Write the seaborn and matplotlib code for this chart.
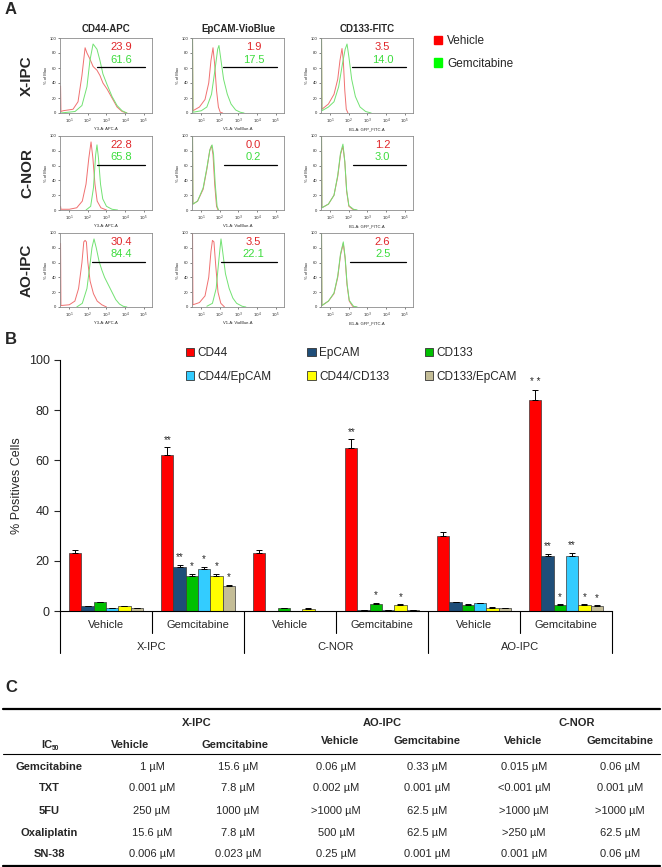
import numpy as np
import pandas as pd
import matplotlib
matplotlib.use("Agg")
import matplotlib.pyplot as plt
import matplotlib.transforms as mtransforms
from matplotlib.patches import Patch
from matplotlib import font_manager
import seaborn as sns

# ---------------- panel A: flow histograms (log10 intensity, % of max) ----------------
LINES = ["X-IPC", "C-NOR", "AO-IPC"]
STAINS = ["CD44-APC", "EpCAM-VioBlue", "CD133-FITC"]
CHANNELS = ["Y3-A: APC-A", "V1-A: VioBlue-A", "B1-A: GFP_FITC-A"]

xipc_cd44_veh = [(0.53, 36), (0.55, 2), (0.66, 3), (1.2, 5), (1.47, 15), (1.68, 50), (1.85, 87), (1.95, 80),
                 (2.11, 72), (2.28, 62), (2.49, 57), (2.65, 50), (2.81, 40), (3.03, 32), (3.3, 20),
                 (3.57, 8), (3.84, 2), (4.1, 0)]
xipc_cd44_gem = [(0.53, 0), (1.31, 2), (1.68, 10), (1.95, 35), (2.11, 70), (2.28, 92), (2.49, 85),
                 (2.65, 70), (2.81, 52), (3.03, 38), (3.3, 22), (3.57, 10), (3.84, 3), (4.1, 0)]
xipc_epcam_veh = [(0.53, 100), (0.55, 3), (0.9, 8), (1.2, 18), (1.4, 40), (1.52, 70), (1.63, 87),
                  (1.72, 65), (1.82, 30), (1.92, 8), (2.02, 1), (2.15, 0)]
xipc_epcam_gem = [(0.53, 100), (0.55, 1), (1.0, 3), (1.3, 8), (1.55, 25), (1.75, 60), (1.88, 85),
                  (1.95, 90), (2.05, 72), (2.2, 45), (2.4, 25), (2.6, 12), (2.85, 4), (3.1, 1), (3.3, 0)]
xipc_cd133_veh = [(0.53, 100), (0.55, 5), (0.9, 12), (1.2, 25), (1.4, 45), (1.52, 70), (1.63, 86),
                  (1.7, 70), (1.78, 30), (1.86, 5), (1.95, 0)]
xipc_cd133_gem = [(0.53, 100), (0.55, 3), (0.9, 8), (1.2, 15), (1.45, 35), (1.65, 65), (1.8, 85),
                  (1.9, 92), (2.0, 75), (2.15, 45), (2.35, 22), (2.6, 8), (2.9, 2), (3.2, 0)]

cnor_cd44_veh = [(0.53, 5), (0.55, 1), (1.0, 1), (1.4, 3), (1.7, 12), (1.9, 35), (2.05, 70), (2.17, 92),
                 (2.27, 70), (2.38, 35), (2.5, 12), (2.7, 3), (3.0, 0)]
cnor_cd44_gem = [(1.9, 0), (2.15, 5), (2.3, 30), (2.42, 75), (2.49, 88), (2.57, 70), (2.68, 35),
                 (2.8, 15), (3.0, 5), (3.3, 1), (3.6, 0)]
cnor_epcam_veh = [(0.53, 100), (0.55, 8), (0.8, 12), (1.1, 28), (1.3, 55), (1.45, 80), (1.55, 87),
                  (1.63, 75), (1.72, 35), (1.82, 5), (1.9, 0)]
cnor_epcam_gem = [(0.53, 100), (0.55, 8), (0.8, 12), (1.1, 30), (1.3, 57), (1.47, 82), (1.58, 88),
                  (1.66, 75), (1.75, 35), (1.85, 5), (1.93, 0)]
cnor_cd133_veh = [(0.53, 100), (0.55, 3), (0.9, 8), (1.2, 20), (1.4, 45), (1.55, 75), (1.68, 86),
                  (1.78, 65), (1.88, 25), (2.0, 5), (2.2, 1), (2.4, 0)]
cnor_cd133_gem = [(0.53, 100), (0.55, 3), (0.9, 8), (1.2, 20), (1.4, 47), (1.55, 77), (1.68, 89),
                  (1.78, 66), (1.88, 27), (2.0, 6), (2.25, 1), (2.45, 0)]

aoipc_cd44_veh = [(0.53, 86), (0.55, 2), (1.0, 3), (1.3, 8), (1.5, 25), (1.68, 60), (1.78, 88), (1.85, 90),
                  (1.92, 88), (2.0, 60), (2.12, 35), (2.3, 18), (2.5, 8), (2.75, 3), (3.0, 0)]
aoipc_cd44_gem = [(1.4, 0), (1.7, 5), (1.95, 25), (2.1, 55), (2.22, 80), (2.33, 92), (2.45, 80), (2.6, 62),
                  (2.75, 50), (2.9, 40), (3.1, 30), (3.3, 20), (3.5, 10), (3.7, 4), (3.9, 1), (4.1, 0)]
aoipc_epcam_veh = [(0.53, 100), (0.55, 3), (0.9, 6), (1.2, 15), (1.4, 40), (1.52, 75), (1.6, 90),
                   (1.68, 88), (1.78, 55), (1.9, 20), (2.05, 5), (2.25, 0)]
aoipc_epcam_gem = [(1.3, 1), (1.6, 5), (1.8, 25), (1.95, 65), (2.06, 92), (2.15, 75), (2.3, 45),
                   (2.5, 25), (2.7, 12), (2.9, 5), (3.2, 1), (3.4, 0)]
aoipc_cd133_veh = [(0.53, 100), (0.55, 2), (0.9, 8), (1.2, 18), (1.4, 40), (1.55, 70), (1.7, 86),
                   (1.8, 65), (1.9, 30), (2.02, 8), (2.2, 1), (2.4, 0)]
aoipc_cd133_gem = [(0.53, 100), (0.55, 2), (0.9, 8), (1.2, 19), (1.4, 42), (1.55, 72), (1.7, 88),
                   (1.8, 67), (1.9, 32), (2.02, 9), (2.25, 1), (2.45, 0)]

# % positive printed in each histogram
PCT_VEH = [[23.9, 1.9, 3.5], [22.8, 0.0, 1.2], [30.4, 3.5, 2.6]]
PCT_GEM = [[61.6, 17.5, 14.0], [65.8, 0.2, 3.0], [84.4, 22.1, 2.5]]
GATE_START = [[2.48, 2.18, 2.18], [2.48, 2.23, 2.23], [2.23, 2.08, 2.08]]

HIST = [
    [(xipc_cd44_veh, xipc_cd44_gem), (xipc_epcam_veh, xipc_epcam_gem), (xipc_cd133_veh, xipc_cd133_gem)],
    [(cnor_cd44_veh, cnor_cd44_gem), (cnor_epcam_veh, cnor_epcam_gem), (cnor_cd133_veh, cnor_cd133_gem)],
    [(aoipc_cd44_veh, aoipc_cd44_gem), (aoipc_epcam_veh, aoipc_epcam_gem), (aoipc_cd133_veh, aoipc_cd133_gem)],
]

# ---------------- panel B: % positive cells ----------------
SUBGROUPS = ["X-IPC Vehicle", "X-IPC Gemcitabine", "C-NOR Vehicle", "C-NOR Gemcitabine",
             "AO-IPC Vehicle", "AO-IPC Gemcitabine"]
TREATMENTS = ["Vehicle", "Gemcitabine"] * 3
GROUPS = ["X-IPC", "C-NOR", "AO-IPC"]
MARKERS = ["CD44", "EpCAM", "CD133", "CD44/EpCAM", "CD44/CD133", "CD133/EpCAM"]

cd44 = [23.2, 62.0, 23.2, 64.8, 29.9, 83.9]
epcam = [1.9, 17.6, 0.0, 0.3, 3.5, 22.0]
cd133 = [3.5, 14.0, 1.2, 2.9, 2.5, 2.4]
cd44_epcam = [1.2, 16.8, 0.0, 0.3, 3.1, 22.0]
cd44_cd133 = [2.0, 14.0, 0.9, 2.4, 1.0, 2.4]
cd133_epcam = [1.2, 10.0, 0.1, 0.3, 1.2, 2.0]
VALUES = [cd44, epcam, cd133, cd44_epcam, cd44_cd133, cd133_epcam]

cd44_err = [1.2, 3.2, 1.1, 3.6, 1.5, 4.2]
epcam_err = [0.1, 0.8, 0.0, 0.1, 0.2, 0.7]
cd133_err = [0.2, 0.8, 0.1, 0.4, 0.4, 0.2]
cd44_epcam_err = [0.1, 0.8, 0.0, 0.1, 0.1, 1.3]
cd44_cd133_err = [0.1, 0.8, 0.3, 0.2, 0.4, 0.2]
cd133_epcam_err = [0.1, 0.4, 0.0, 0.1, 0.1, 0.2]
ERRORS = [cd44_err, epcam_err, cd133_err, cd44_epcam_err, cd44_cd133_err, cd133_epcam_err]

STARS = [
    ["", "**", "", "**", "", "* *"],
    ["", "**", "", "", "", "**"],
    ["", "*", "", "*", "", "*"],
    ["", "*", "", "", "", "**"],
    ["", "*", "", "*", "", "*"],
    ["", "*", "", "", "", "*"],
]

# ---------------- panel C: IC50 table ----------------
DRUGS = ["Gemcitabine", "TXT", "5FU", "Oxaliplatin", "SN-38"]
TABLE_GROUPS = ["X-IPC", "AO-IPC", "C-NOR"]
xipc_vehicle_ic50 = ["1 µM", "0.001 µM", "250 µM", "15.6 µM", "0.006 µM"]
xipc_gem_ic50 = ["15.6 µM", "7.8 µM", "1000 µM", "7.8 µM", "0.023 µM"]
aoipc_vehicle_ic50 = ["0.06 µM", "0.002 µM", ">1000 µM", "500 µM", "0.25 µM"]
aoipc_gem_ic50 = ["0.33 µM", "0.001 µM", "62.5 µM", "62.5 µM", "0.001 µM"]
cnor_vehicle_ic50 = ["0.015 µM", "<0.001 µM", ">1000 µM", ">250 µM", "0.001 µM"]
cnor_gem_ic50 = ["0.06 µM", "0.001 µM", ">1000 µM", "62.5 µM", "0.06 µM"]
IC50_COLS = [xipc_vehicle_ic50, xipc_gem_ic50, aoipc_vehicle_ic50, aoipc_gem_ic50,
             cnor_vehicle_ic50, cnor_gem_ic50]

VEH_LINE, GEM_LINE = "#f07070", "#72e272"
VEH_TXT, GEM_TXT = "#e0262a", "#3ddc3d"
BAR_COLORS = ["#ff0000", "#1f4e79", "#00c000", "#33ccff", "#ffff00", "#c4bd97"]

sns.set_theme(style="white")
plt.rcParams["font.family"] = ["Liberation Sans", "DejaVu Sans"]
names = {f.name for f in font_manager.fontManager.ttflist}
NARROW = "Liberation Sans Narrow" if "Liberation Sans Narrow" in names else "Liberation Sans"
TSIZE = 9.5 if NARROW == "Liberation Sans Narrow" else 8.0

W, H = 662, 867
fig = plt.figure(figsize=(W / 100, H / 100), dpi=100)


def px_axes(x0, y0, x1, y1):
    return fig.add_axes([x0 / W, 1 - y1 / H, (x1 - x0) / W, (y1 - y0) / H])


# ---- A ----
fig.text(5 / W, 1 - 9 / H, "A", fontsize=12, fontweight="bold", va="center")
COL_X = [(60, 152), (192, 284), (321, 413)]
ROW_Y = [(38, 113), (136, 210), (233, 307)]

for r in range(3):
    for c in range(3):
        ax = px_axes(COL_X[c][0], ROW_Y[r][0], COL_X[c][1], ROW_Y[r][1])
        for pts, col in zip(HIST[r][c], (VEH_LINE, GEM_LINE)):
            xs, ys = zip(*pts)
            sns.lineplot(x=list(xs), y=list(ys), ax=ax, color=col, lw=0.7,
                         sort=False, estimator=None)
        ax.set_xlim(0.5, 5.45)
        ax.set_ylim(0, 100)
        ax.set_xticks([1, 2, 3, 4, 5])
        ax.set_xticklabels([rf"$10^{k}$" for k in range(1, 6)])
        ax.set_yticks(range(0, 101, 20))
        ax.tick_params(labelsize=3, length=1.5, width=0.4, pad=1, bottom=True, left=True)
        for s in ax.spines.values():
            s.set_color("#8c8c8c")
            s.set_linewidth(0.6)
        ax.set_xlabel(CHANNELS[c], fontsize=3, labelpad=1)
        ax.set_ylabel("% of Max", fontsize=3, labelpad=1)
        ax.plot([GATE_START[r][c], 5.1], [61, 61], color="black", lw=0.9)
        ax.text(0.67, 0.88, f"{PCT_VEH[r][c]:.1f}", transform=ax.transAxes, color=VEH_TXT,
                fontsize=8, ha="center", va="center")
        ax.text(0.67, 0.71, f"{PCT_GEM[r][c]:.1f}", transform=ax.transAxes, color=GEM_TXT,
                fontsize=8, ha="center", va="center")
        if r == 0:
            ax.set_title(STAINS[c], fontsize=7, fontweight="bold", pad=4)
    yc = (ROW_Y[r][0] + ROW_Y[r][1]) / 2
    fig.text(27 / W, 1 - yc / H, LINES[r], rotation=90, fontsize=11, fontweight="bold",
             ha="center", va="center")

fig.legend(handles=[Patch(color="#ff0000", label="Vehicle"), Patch(color="#00ff00", label="Gemcitabine")],
           loc="upper left", bbox_to_anchor=(428 / W, 1 - 29 / H), frameon=False, fontsize=8.5,
           handlelength=0.7, handleheight=0.7, handletextpad=0.4, labelspacing=0.9, borderpad=0)

# ---- B ----
fig.text(5 / W, 1 - 340 / H, "B", fontsize=12, fontweight="bold", va="center")
rows = []
for m, vals in zip(MARKERS, VALUES):
    for sg, v in zip(SUBGROUPS, vals):
        rows.append({"subgroup": sg, "marker": m, "pct": v})
df = pd.DataFrame(rows)

axb = px_axes(60, 360, 612, 611)
sns.barplot(data=df, x="subgroup", y="pct", hue="marker", order=SUBGROUPS, hue_order=MARKERS,
            palette=BAR_COLORS, saturation=1, errorbar=None, edgecolor="#3a3a3a", linewidth=0.5,
            width=0.8, legend=False, ax=axb)

for cont, errs, stars in zip(axb.containers, ERRORS, STARS):
    for bar, e, st in zip(cont, errs, stars):
        x = bar.get_x() + bar.get_width() / 2
        h = bar.get_height()
        if e > 0:
            axb.errorbar(x, h, yerr=[[0], [e]], fmt="none", ecolor="black", elinewidth=0.7,
                         capsize=2, capthick=0.7)
        if st:
            axb.text(x, h + e + 1.0, st, ha="center", va="bottom", fontsize=7)

axb.set_xlim(-0.5, 5.5)
axb.set_ylim(0, 100)
axb.set_yticks(range(0, 101, 20))
axb.set_xticks([])
axb.set_xlabel("")
axb.set_ylabel("% Positives Cells", fontsize=9)
axb.tick_params(axis="y", labelsize=9, left=True, length=4, width=0.8, direction="out")
sns.despine(ax=axb)
for s in ("left", "bottom"):
    axb.spines[s].set_color("black")
    axb.spines[s].set_linewidth(0.8)

trans = mtransforms.blended_transform_factory(axb.transData, axb.transAxes)
for i, t in enumerate(TREATMENTS):
    axb.text(i, -0.056, t, transform=trans, ha="center", va="center", fontsize=8)
for g, name in enumerate(GROUPS):
    axb.text(2 * g + 0.5, -0.143, name, transform=trans, ha="center", va="center", fontsize=8)
for xb in np.arange(-0.5, 6, 1.0):
    low = -0.088 if int(xb + 0.5) % 2 == 1 else -0.167
    axb.plot([xb, xb], [0, low], transform=trans, color="black", lw=0.8, clip_on=False)

handle_order = [0, 3, 1, 4, 2, 5]
handles = [Patch(facecolor=BAR_COLORS[k], edgecolor="#333333", lw=0.6, label=MARKERS[k])
           for k in handle_order]
fig.legend(handles=handles, ncol=3, loc="upper left", bbox_to_anchor=(180 / W, 1 - 341 / H),
           frameon=False, fontsize=8.5, handlelength=0.7, handleheight=0.7, handletextpad=0.3,
           columnspacing=3.0, labelspacing=1.0, borderpad=0)

# ---- C ----
fig.text(5 / W, 1 - 687 / H, "C", fontsize=12, fontweight="bold", va="center")
axc = fig.add_axes([0, 0, 1, (H - 695) / H])
axc.set_xlim(0, W)
axc.set_ylim(H, 695)
axc.axis("off")

tkw = dict(fontfamily=NARROW, fontsize=TSIZE, ha="center", va="center")
for yline, lw in ((709, 1.6), (754, 0.8), (865.5, 1.6)):
    axc.plot([3, 660], [yline, yline], color="black", lw=lw, clip_on=False)

for name, xc in zip(TABLE_GROUPS, (197, 382, 577)):
    axc.text(xc, 723, name, fontweight="bold", **tkw)
head_x = [130, 235, 340, 427, 523, 620]
head_y = [745, 745, 741, 741, 741, 741]
for k, (xc, yc) in enumerate(zip(head_x, head_y)):
    axc.text(xc, yc, TREATMENTS[k], fontweight="bold", **tkw)
axc.text(52, 745, "IC", fontweight="bold", fontfamily=NARROW, fontsize=TSIZE, ha="right", va="center")
axc.text(52, 748, "50", fontweight="bold", fontfamily=NARROW, fontsize=TSIZE * 0.6, ha="left", va="center")

val_x = [152, 238, 336, 427, 524, 620]
row_y = [767, 788, 811, 833, 854]
for d, yc in zip(DRUGS, row_y):
    axc.text(49, yc, d, fontweight="bold", **tkw)
for col, xc in zip(IC50_COLS, val_x):
    for v, yc in zip(col, row_y):
        axc.text(xc, yc, v, **tkw)

fig.savefig("out.png", dpi=100)
